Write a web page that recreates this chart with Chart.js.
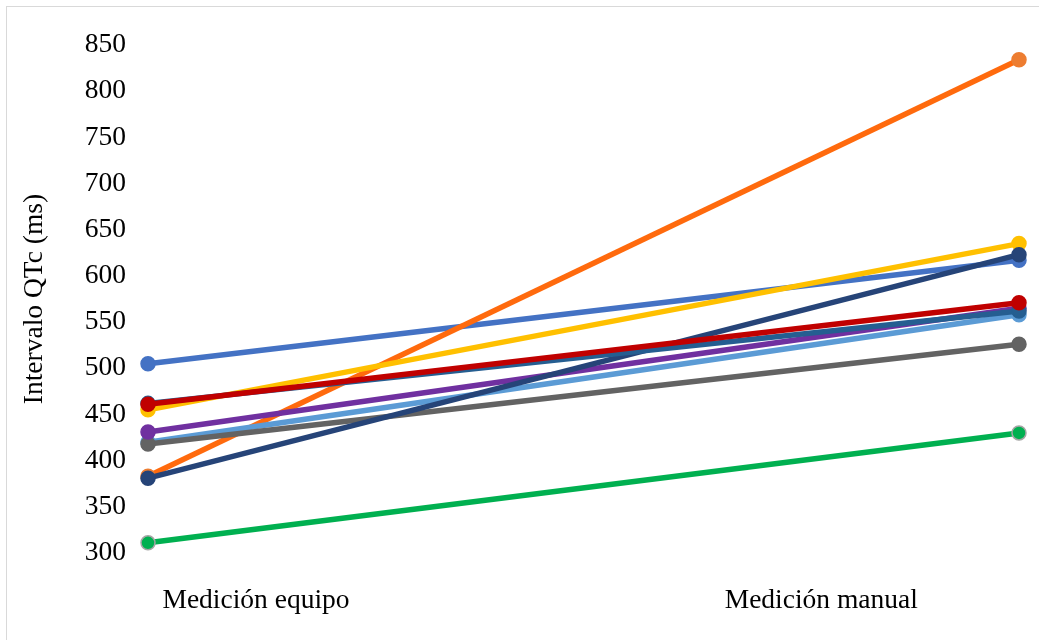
<!DOCTYPE html>
<html>
<head>
<meta charset="utf-8">
<script src="https://cdn.jsdelivr.net/npm/chart.js@4.4.1/dist/chart.umd.min.js"></script>
<style>
  html, body { margin: 0; padding: 0; background: #fff; overflow: hidden; }
  #frame { position: absolute; left: 6px; top: 6px; width: 1100px; height: 700px;
           border: 1px solid #d9d9d9; box-sizing: border-box; }
  #wrap { position: absolute; left: 0; top: 0; width: 1039px; height: 640px; }
</style>
</head>
<body>
<div id="frame"></div>
<div id="wrap"><canvas id="c" width="1039" height="640"></canvas></div>
<script>
// Two measurement methods per patient
const categories = ['Medición equipo', 'Medición manual'];
const yTicks = [300, 350, 400, 450, 500, 550, 600, 650, 700, 750, 800, 850];

// QTc interval (ms) per patient: [device, manual]
const paciente1  = [505, 617];
const paciente2  = [383, 834];
const paciente3  = [420, 558];
const paciente4  = [418, 526];
const paciente5  = [455, 635];
const paciente6  = [311, 430];
const paciente7  = [431, 565];
const paciente8  = [381, 623];
const paciente9  = [462, 562];
const paciente10 = [461, 571];

const series = [
  { data: paciente1,  line: '#4472C4', fill: '#4472C4', edge: '#4472C4' },
  { data: paciente2,  line: '#FF6A0D', fill: '#ED7D31', edge: '#ED7D31' },
  { data: paciente3,  line: '#5B9BD5', fill: '#5B9BD5', edge: '#5B9BD5' },
  { data: paciente4,  line: '#636363', fill: '#636363', edge: '#636363' },
  { data: paciente5,  line: '#FFC000', fill: '#FFC000', edge: '#FFC000' },
  { data: paciente6,  line: '#00B050', fill: '#00B050', edge: '#A5A5A5' },
  { data: paciente7,  line: '#7030A0', fill: '#7030A0', edge: '#7030A0' },
  { data: paciente8,  line: '#264478', fill: '#264478', edge: '#264478' },
  { data: paciente9,  line: '#255E91', fill: '#255E91', edge: '#255E91' },
  { data: paciente10, line: '#C00000', fill: '#C00000', edge: '#C00000' }
];

// Later series sit on top of earlier ones
const datasets = series.map((s, i) => ({
  data: s.data,
  borderColor: s.line,
  backgroundColor: s.fill,
  borderWidth: 5.5,
  pointRadius: 7,
  pointBorderWidth: 1.5,
  pointBackgroundColor: s.fill,
  pointBorderColor: s.edge,
  pointHoverRadius: 7,
  tension: 0,
  clip: false,
  order: series.length - i
}));

const FONT = { family: '"Liberation Serif", "Times New Roman", serif', size: 27.5 };

new Chart(document.getElementById('c'), {
  type: 'line',
  data: { labels: categories, datasets },
  options: {
    responsive: false,
    animation: false,
    events: [],
    layout: { padding: { left: 0, right: 20, top: 45, bottom: 0 } },
    plugins: { legend: { display: false }, tooltip: { enabled: false } },
    scales: {
      x: {
        type: 'category',
        offset: false,
        display: false
      },
      xLabels: {
        type: 'linear',
        position: 'bottom',
        min: 0,
        max: 1,
        grid: { display: false, drawTicks: false },
        border: { display: false },
        afterBuildTicks: (axis) => {
          axis.ticks = [{ value: 0.124 }, { value: 0.773 }];
        },
        afterFit: (axis) => { axis.height = 87; },
        ticks: {
          autoSkip: false,
          maxRotation: 0,
          padding: 31,
          color: '#000',
          font: FONT,
          callback: (v, i) => categories[i]
        }
      },
      y: {
        min: 300,
        max: 850,
        afterBuildTicks: (axis) => { axis.ticks = yTicks.map(v => ({ value: v })); },
        afterFit: (axis) => { axis.width = 148; },
        grid: { display: false, drawTicks: false },
        border: { display: false },
        ticks: { padding: 22, color: '#000', font: FONT },
        title: {
          display: true,
          text: 'Intervalo QTc (ms)',
          color: '#000',
          font: FONT,
          padding: { top: 18, bottom: 0 }
        }
      }
    }
  }
});
</script>
</body>
</html>
